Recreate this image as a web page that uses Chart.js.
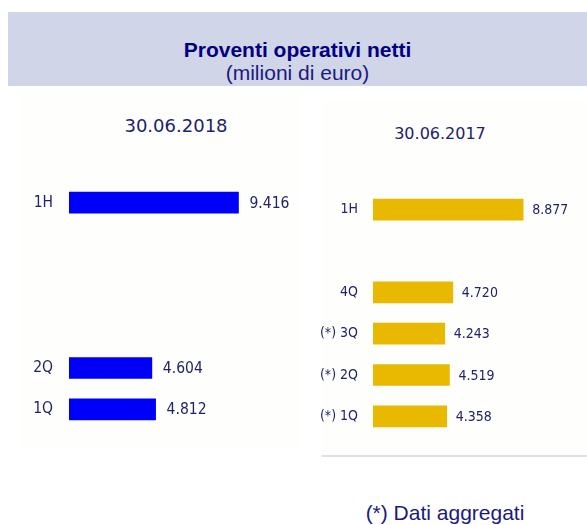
<!DOCTYPE html>
<html lang="it">
<head>
<meta charset="UTF-8">
<title>Proventi operativi netti</title>
<script src="https://cdn.jsdelivr.net/npm/chart.js@4.4.0/dist/chart.umd.min.js"></script>
<style>
  body { margin: 0; width: 587px; height: 525px; position: relative; background: #fff; overflow: hidden;
         font-family: 'Liberation Sans', Arial, sans-serif; }
  #head { position: absolute; left: 8px; top: 12px; width: 579px; height: 74px; background: #d0d5e8;
          color: #000080; text-align: center; }
  #head .t { position: absolute; left: 0; right: 0; top: 26px; font-weight: bold; font-size: 21px; }
  #head .s { position: absolute; left: 0; right: 0; top: 49px; font-size: 21px; color: #1a1a80; }
  .panel { position: absolute; background: #fefefd; }
  .ptitle { position: absolute; color: #22226b; font-family: 'DejaVu Sans', sans-serif; text-align: center; }
  canvas { position: absolute; }
  #note { position: absolute; left: 300px; width: 290px; top: 501px; text-align: center; font-size: 21px; color: #1a1a80; }
</style>
</head>
<body>
  <div id="head"><div class="t">Proventi operativi netti</div><div class="s">(milioni di euro)</div></div>
  <div class="panel" style="left:22px;top:88px;width:276px;height:360px"></div>
  <div class="panel" style="left:322px;top:100px;width:265px;height:355px;border-bottom:2px solid #e0e0e0"></div>
  <div class="ptitle" style="left:76px;width:200px;top:115px;font-size:18px">30.06.2018</div>
  <div class="ptitle" style="left:340px;width:200px;top:124px;font-size:16px">30.06.2017</div>
  <canvas id="c2018" width="300" height="248" style="left:0;top:182px"></canvas>
  <canvas id="c2017" width="266" height="248" style="left:321px;top:189px"></canvas>
  <div id="note">(*) Dati aggregati</div>
<script>
  // milioni di euro
  const labels2018 = ['1H', '', '', '', '2Q', '1Q'];
  const values2018 = [9416, null, null, null, 4604, 4812];

  const labels2017 = ['1H', '', '4Q', '(*) 3Q', '(*) 2Q', '(*) 1Q'];
  const values2017 = [8877, null, 4720, 4243, 4519, 4358];

  const navy = '#22226b';
  const cond = "'DejaVu Sans Condensed', 'DejaVu Sans', sans-serif";

  function fmt(v) {
    // 9416 -> 9.416
    return Math.floor(v / 1000) + '.' + String(v % 1000).padStart(3, '0');
  }

  // writes the value at the end of each bar
  const valueLabels = {
    id: 'valueLabels',
    afterDatasetsDraw(chart, args, opts) {
      const ctx = chart.ctx;
      const meta = chart.getDatasetMeta(0);
      ctx.save();
      ctx.fillStyle = navy;
      ctx.font = opts.size + 'px ' + cond;
      ctx.textBaseline = 'middle';
      meta.data.forEach((bar, i) => {
        const v = chart.data.datasets[0].data[i];
        if (v == null) return;
        ctx.fillText(fmt(v), bar.x + opts.gap, bar.y + 1);
      });
      ctx.restore();
    }
  };

  function makeChart(id, labels, values, color, axisWidth, padRight, fontSize, pad, gap) {
    return new Chart(document.getElementById(id), {
      type: 'bar',
      data: {
        labels: labels,
        datasets: [{ data: values, backgroundColor: color, barThickness: 21 }]
      },
      options: {
        indexAxis: 'y',
        responsive: false,
        animation: false,
        layout: { padding: { left: 0, right: padRight, top: 0, bottom: 0 } },
        plugins: {
          legend: { display: false },
          tooltip: { enabled: false },
          valueLabels: { size: fontSize, gap: gap }
        },
        scales: {
          x: { display: false, min: 0, max: 12000 },
          y: {
            grid: { display: false, drawTicks: false },
            border: { display: false },
            ticks: { color: navy, padding: pad, font: { size: fontSize, family: cond } },
            afterFit(scale) {
              scale.width = axisWidth;
              scale.paddingTop = 0;
              scale.paddingBottom = 0;
            }
          }
        }
      },
      plugins: [valueLabels]
    });
  }

  makeChart('c2018', labels2018, values2018, '#0000f8', 69, 15, 15.5, 16, 11);
  makeChart('c2017', labels2017, values2017, '#e8b900', 52, 11, 14, 15, 9);
</script>
</body>
</html>
